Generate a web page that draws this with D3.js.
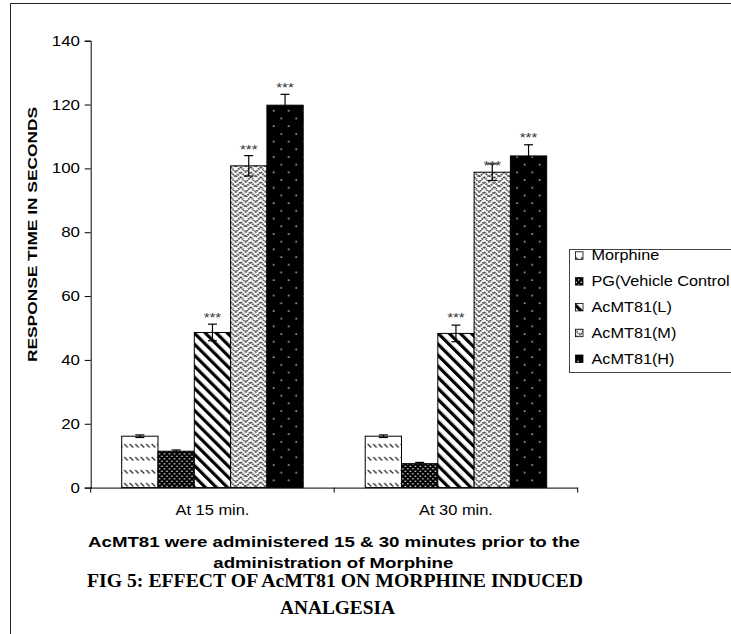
<!DOCTYPE html>
<html><head><meta charset="utf-8">
<script src="https://cdn.jsdelivr.net/npm/d3@7"></script>
<style>
html,body{margin:0;padding:0;background:#fff;}
svg{display:block;}
text{font-family:"Liberation Sans",Arial,sans-serif;}
</style></head>
<body>
<svg id="c" width="731" height="634"></svg>
<script>
const categories = ["At 15 min.", "At 30 min."];
const series = ["Morphine", "PG(Vehicle Control", "AcMT81(L)", "AcMT81(M)", "AcMT81(H)"];
const morphineVals = [16.1, 16.1];
const pgVals = [11.4, 7.5];
const lowVals = [48.6, 48.3];
const midVals = [100.8, 98.8];
const highVals = [119.8, 103.9];
const morphineErr = [0.4, 0.4];
const pgErr = [0.4, 0.4];
const lowErr = [2.6, 2.6];
const midErr = [3.2, 2.6];
const highErr = [3.4, 3.5];
// level (in seconds) at which the "***" marks sit; null = no mark
const morphineSig = [null, null];
const pgSig = [null, null];
const lowSig = [54.2, 54.2];
const midSig = [106.8, 101.8];
const highSig = [126.5, 110.7];
const yTicks = [0, 20, 40, 60, 80, 100, 120, 140];

const vals = [morphineVals, pgVals, lowVals, midVals, highVals];
const errs = [morphineErr, pgErr, lowErr, midErr, highErr];
const sigs = [morphineSig, pgSig, lowSig, midSig, highSig];
const patIds = ["pMorph", "pPG", "pL", "pM", "pH"];

// the original text is horizontally stretched; widen glyphs by a factor
function stretch(sel, k) {
  sel.each(function() {
    const w = this.getComputedTextLength();
    d3.select(this).attr("textLength", w * k).attr("lengthAdjust", "spacingAndGlyphs");
  });
}
function fitTo(sel, len) {
  sel.attr("textLength", len).attr("lengthAdjust", "spacingAndGlyphs");
}

const svg = d3.select("#c");
const defs = svg.append("defs");

// Morphine: white with slanted dashes
let p = defs.append("pattern").attr("id","pMorph").attr("patternUnits","userSpaceOnUse").attr("width",5.5).attr("height",13);
p.append("rect").attr("width",5.5).attr("height",13).attr("fill","#fff");
p.append("line").attr("x1",0.5).attr("y1",2).attr("x2",4).attr("y2",5.5).attr("stroke","#333").attr("stroke-width",1.3);
// PG: black with white dots
p = defs.append("pattern").attr("id","pPG").attr("patternUnits","userSpaceOnUse").attr("width",5).attr("height",5);
p.append("rect").attr("width",5).attr("height",5).attr("fill","#000");
p.append("circle").attr("cx",1.25).attr("cy",1.25).attr("r",0.85).attr("fill","#ddd");
p.append("circle").attr("cx",3.75).attr("cy",3.75).attr("r",0.85).attr("fill","#ddd");
// L: wide black diagonal stripes
p = defs.append("pattern").attr("id","pL").attr("patternUnits","userSpaceOnUse").attr("width",7.8).attr("height",10).attr("patternTransform","rotate(-45)");
p.append("rect").attr("width",7.8).attr("height",10).attr("fill","#fff");
p.append("rect").attr("width",3.2).attr("height",10).attr("fill","#000");
// M: grey weave
p = defs.append("pattern").attr("id","pM").attr("patternUnits","userSpaceOnUse").attr("width",10).attr("height",10);
p.append("rect").attr("width",10).attr("height",10).attr("fill","#fff");
p.append("path").attr("d","M0,2 L5,7 L10,2 M0,7 L2.5,9.5 M7.5,9.5 L10,7 M2.5,-0.5 L5,2 L7.5,-0.5").attr("stroke","#3c3c3c").attr("stroke-width",1.9).attr("stroke-dasharray","1.6,0.8").attr("fill","none");
// H: black with sparse dots
p = defs.append("pattern").attr("id","pH").attr("patternUnits","userSpaceOnUse").attr("width",15).attr("height",15.4);
p.append("rect").attr("width",15).attr("height",15.4).attr("fill","#000");
p.append("circle").attr("cx",3).attr("cy",3).attr("r",0.9).attr("fill","#ccc");
p.append("circle").attr("cx",10.5).attr("cy",10.7).attr("r",0.9).attr("fill","#ccc");

// outer frame
svg.append("line").attr("x1",10.5).attr("y1",3.5).attr("x2",731).attr("y2",3.5).attr("stroke","#222");
svg.append("line").attr("x1",10.5).attr("y1",3.5).attr("x2",10.5).attr("y2",634).attr("stroke","#222");

const x0 = d3.scaleBand().domain(categories).range([90.7, 577.7]).padding(0);
const x1 = d3.scaleBand().domain(series).range([0, x0.bandwidth()]).paddingInner(0).paddingOuter(0.854);
const y = d3.scaleLinear().domain([0, 140]).range([487.6, 40.7]);

// y axis
const yAxis = svg.append("g").attr("transform","translate(90.7,0)")
  .call(d3.axisLeft(y).tickValues(yTicks).tickSize(6).tickPadding(4.7).tickFormat(d3.format("d")));
yAxis.select(".domain").attr("stroke","#000");
yAxis.selectAll(".tick line").attr("stroke","#000");
yAxis.selectAll("text").attr("font-size",14).attr("font-family","Liberation Sans, Arial, sans-serif").attr("fill","#000");
stretch(yAxis.selectAll("text"), 1.21);

// bars
const groups = svg.append("g").selectAll("g").data(categories).join("g")
  .attr("transform", d => `translate(${x0(d)},0)`);
series.forEach((s, si) => {
  groups.append("rect")
    .attr("x", x1(s)).attr("width", x1.bandwidth())
    .attr("y", (d, ci) => y(vals[si][ci]))
    .attr("height", (d, ci) => y(0) - y(vals[si][ci]))
    .attr("fill", `url(#${patIds[si]})`).attr("stroke","#000").attr("stroke-width",1);
});
// error bars
series.forEach((s, si) => {
  groups.each(function(d, ci) {
    const g = d3.select(this);
    const cx = x1(s) + x1.bandwidth()/2;
    const v = vals[si][ci], e = errs[si][ci];
    const t = y(v + e), b = y(v - e);
    g.append("line").attr("x1",cx).attr("x2",cx).attr("y1",t).attr("y2",b).attr("stroke","#000").attr("stroke-width",1.2);
    g.append("line").attr("x1",cx-4.5).attr("x2",cx+4.5).attr("y1",t).attr("y2",t).attr("stroke","#000").attr("stroke-width",1.2);
    g.append("line").attr("x1",cx-4.5).attr("x2",cx+4.5).attr("y1",b).attr("y2",b).attr("stroke","#000").attr("stroke-width",1.2);
    const sg = sigs[si][ci];
    if (sg != null) {
      const tx = g.append("text").attr("x",cx).attr("y",y(sg)+7.8).attr("text-anchor","middle")
        .attr("font-size",13).attr("fill","#333").text("***");
      fitTo(tx, 17.5);
    }
  });
});

// x axis
const xAxisG = svg.append("g").attr("transform","translate(0,487.6)");
xAxisG.append("line").attr("x1",90.7).attr("x2",577.7).attr("y1",0.5).attr("y2",0.5).attr("stroke","#000");
const xBounds = [x0.range()[0]].concat(categories.map(c => x0(c) + x0.bandwidth()));
xAxisG.selectAll(".xt").data(xBounds).join("line").attr("class","xt")
  .attr("x1", d => d).attr("x2", d => d).attr("y1",0).attr("y2",5).attr("stroke","#000");
const xl = xAxisG.selectAll(".xl").data(categories).join("text").attr("class","xl")
  .attr("x", d => x0(d) + x0.bandwidth()/2).attr("y", 27.5).attr("text-anchor","middle")
  .attr("font-size",14).attr("fill","#000").text(d => d);
fitTo(xl, 74);

// y title
const yt = svg.append("text").attr("transform","translate(36.5,234.5) rotate(-90)").attr("text-anchor","middle")
  .attr("font-size",13.5).attr("font-weight","bold").attr("fill","#000").text("RESPONSE TIME IN SECONDS");
fitTo(yt, 255);

// x title
const xt1 = svg.append("text").attr("x",334).attr("y",547).attr("text-anchor","middle")
  .attr("font-size",14).attr("font-weight","bold").attr("fill","#000")
  .text("AcMT81 were administered  15 & 30 minutes prior to the");
fitTo(xt1, 492);
const xt2 = svg.append("text").attr("x",333.3).attr("y",568).attr("text-anchor","middle")
  .attr("font-size",14).attr("font-weight","bold").attr("fill","#000")
  .text("administration of Morphine");
fitTo(xt2, 240);

// figure caption
const c1 = svg.append("text").attr("x",335).attr("y",586.5).attr("text-anchor","middle")
  .style("font-family","'Liberation Serif','Times New Roman',serif")
  .attr("font-size",18.5).attr("font-weight","bold").attr("fill","#000")
  .text("FIG 5: EFFECT OF AcMT81 ON MORPHINE INDUCED");
fitTo(c1, 496);
const c2 = svg.append("text").attr("x",337.5).attr("y",613.5).attr("text-anchor","middle")
  .style("font-family","'Liberation Serif','Times New Roman',serif")
  .attr("font-size",18.5).attr("font-weight","bold").attr("fill","#000")
  .text("ANALGESIA");
fitTo(c2, 115);

// legend
svg.append("rect").attr("x",569.5).attr("y",249.5).attr("width",170).attr("height",123).attr("fill","#fff").attr("stroke","#444");
const leg = svg.append("g").selectAll("g").data(series).join("g")
  .attr("transform", (d, i) => `translate(575, ${255.3 + i*25.8})`);
leg.append("rect").attr("x",0.5).attr("y",-3.5).attr("width",7.5).attr("height",7.5)
  .attr("fill", (d, i) => `url(#${patIds[i]})`).attr("stroke","#000").attr("stroke-width",0.8);
const lt = leg.append("text").attr("x",16.5).attr("y",5).attr("font-size",14).attr("fill","#000").text(d => d);
stretch(lt, 1.16);
</script>
</body></html>
